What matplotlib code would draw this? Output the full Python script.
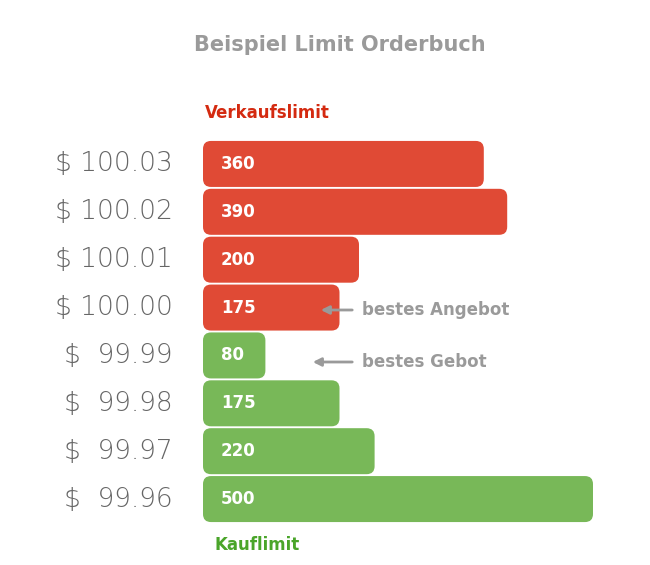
import matplotlib
matplotlib.use("Agg")
import matplotlib.pyplot as plt
from matplotlib.patches import FancyBboxPatch

prices = ["$ 100.03", "$ 100.02", "$ 100.01", "$ 100.00",
          "$  99.99", "$  99.98", "$  99.97", "$  99.96"]
volumes = [360, 390, 200, 175, 80, 175, 220, 500]
sides = ["sell", "sell", "sell", "sell", "buy", "buy", "buy", "buy"]
colors = {"sell": "#E04A35", "buy": "#78B858"}
gray = "#9a9a9a"

W, H = 650, 565
fig = plt.figure(figsize=(W / 100, H / 100), dpi=100)
ax = fig.add_axes([203 / W, 42 / H, 390 / W, 383 / H])
ax.set_xlim(0, 500)
ax.set_ylim(7.5, -0.5)
ax.axis("off")

xpp = 500 / 390
ypp = 8 / 383
bh = 46 * ypp
for i, (v, s) in enumerate(zip(volumes, sides)):
    p = FancyBboxPatch((0, i - bh / 2), v, bh,
                       boxstyle=f"round,pad=0,rounding_size={8 * xpp}",
                       mutation_aspect=ypp / xpp,
                       fc=colors[s], ec="none")
    ax.add_patch(p)
    ax.text(18 * xpp, i, str(v), color="white", fontsize=12,
            fontweight="bold", va="center", ha="left")
    ax.text(-30 * xpp, i, prices[i], color="#666666", fontsize=19,
            va="center", ha="right", family="DejaVu Sans", fontweight="light")

fig.text(340 / W, 1 - 45 / H, "Beispiel Limit Orderbuch", color=gray,
         fontsize=15, fontweight="bold", ha="center", va="center")
fig.text(205 / W, 1 - 113 / H, "Verkaufslimit", color="#D42A10",
         fontsize=12, fontweight="bold", ha="left", va="center")
fig.text(215 / W, 1 - 545 / H, "Kauflimit", color="#4AA52A",
         fontsize=12, fontweight="bold", ha="left", va="center")

for y, x0, label in [(310, 318, "bestes Angebot"), (362, 310, "bestes Gebot")]:
    fig.add_artist(matplotlib.patches.FancyArrowPatch(
        (355 / W, 1 - y / H), (x0 / W, 1 - y / H), transform=fig.transFigure,
        arrowstyle="-|>", mutation_scale=12, color=gray, lw=2))
    fig.text(362 / W, 1 - y / H, label, color=gray, fontsize=12,
             fontweight="bold", ha="left", va="center")

fig.savefig("out.png", dpi=100)
